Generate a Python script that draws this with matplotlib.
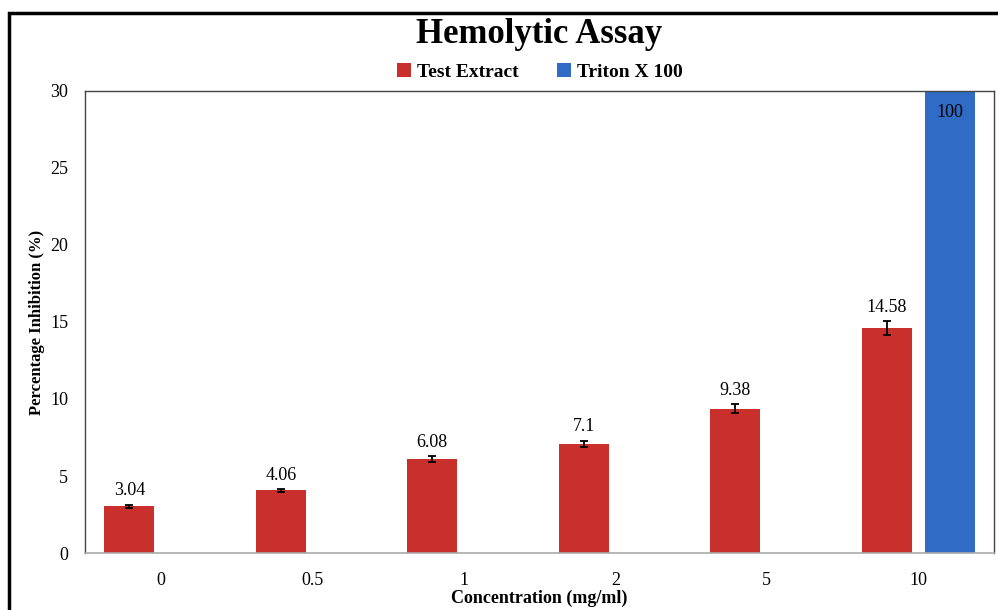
import numpy as np
import matplotlib.pyplot as plt
from matplotlib.patches import Rectangle

plt.rcParams['font.family'] = ['Liberation Serif', 'DejaVu Serif']

# data
concentrations = ['0', '0.5', '1', '2', '5', '10']
test_extract = [3.04, 4.06, 6.08, 7.1, 9.38, 14.58]
test_err = [0.1, 0.1, 0.2, 0.2, 0.3, 0.45]
triton_conc = ['10']
triton = [100]

red = '#c9302c'
blue = '#306cc5'

fig = plt.figure(figsize=(9.98, 6.1), dpi=100)
ax = fig.add_axes([0.0852, 0.0934, 0.9108, 0.7576])

x = np.arange(len(concentrations))
w = 0.33
off = 0.208

ax.bar(x - off, test_extract, w, color=red, label='Test Extract', zorder=2)
ax.errorbar(x - off, test_extract, yerr=test_err, fmt='none', ecolor='black',
            elinewidth=1.3, capsize=3, capthick=1.3, zorder=3)
tx = np.array([concentrations.index(c) for c in triton_conc])
ax.bar(tx + off, triton, w, color=blue, label='Triton X 100', zorder=2)

# value labels
for xi, v, e in zip(x - off, test_extract, test_err):
    ax.text(xi, v + e + 0.35, f'{v:g}', ha='center', va='bottom', fontsize=13)
for xi, v in zip(tx + off, triton):
    ax.text(xi, 28.6, f'{v:g}', ha='center', va='center', fontsize=13)

ax.set_ylim(0, 30)
ax.set_xlim(-0.5, len(concentrations) - 0.5)
ax.set_yticks(np.arange(0, 31, 5))
ax.set_xticks(x)
ax.set_xticklabels(concentrations)
ax.tick_params(axis='both', length=0, labelsize=13)
ax.tick_params(axis='x', pad=14)
ax.tick_params(axis='y', pad=12)

for s in ['top', 'right', 'left']:
    ax.spines[s].set_color('#444444')
    ax.spines[s].set_linewidth(1.0)
ax.spines['bottom'].set_color('#aaaaaa')
ax.spines['bottom'].set_linewidth(1.2)

ax.set_xlabel('Concentration (mg/ml)', fontsize=13, fontweight='bold', labelpad=0)
ax.set_ylabel('Percentage Inhibition (%)', fontsize=12, fontweight='bold', labelpad=4)

fig.text(0.54, 0.943, 'Hemolytic Assay', ha='center', va='center',
         fontsize=25, fontweight='bold')
fig.legend(loc='center', bbox_to_anchor=(0.541, 0.882), ncol=2, frameon=False,
           prop={'size': 14, 'weight': 'bold'}, handlelength=0.7, handleheight=0.7,
           handletextpad=0.3, columnspacing=2.0)

# outer frame of the picture
fig.patches.append(Rectangle((0.009, -0.1), 1.2, 1.078, transform=fig.transFigure,
                             fill=False, edgecolor='black', linewidth=2.5))

fig.savefig('out.png', dpi=100)
